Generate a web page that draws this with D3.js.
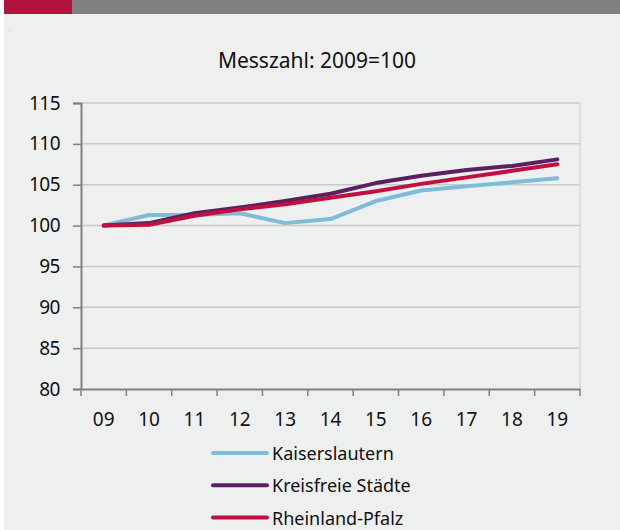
<!DOCTYPE html>
<html>
<head>
<meta charset="utf-8">
<script src="https://cdn.jsdelivr.net/npm/d3@7"></script>
<style>
  body { margin: 0; background: #fff; }
  svg { display: block; font-family: "Noto Sans", "Open Sans", sans-serif; }
</style>
</head>
<body>
<svg id="chart"></svg>
<script>
const WIDTH = 620;
const HEIGHT = 530;

// Data
const years = ["09", "10", "11", "12", "13", "14", "15", "16", "17", "18", "19"];
const kaiserslautern = [100, 101.3, 101.3, 101.5, 100.3, 100.8, 103.0, 104.3, 104.8, 105.3, 105.8];
const kreisfreieStaedte = [100, 100.3, 101.5, 102.2, 103.0, 103.9, 105.2, 106.1, 106.8, 107.3, 108.1];
const rheinlandPfalz = [100, 100.1, 101.2, 102.0, 102.6, 103.4, 104.2, 105.1, 105.9, 106.7, 107.5];
const yTicks = [80, 85, 90, 95, 100, 105, 110, 115];
const seriesNames = ["Kaiserslautern", "Kreisfreie Städte", "Rheinland-Pfalz"];
const seriesColors = ["#7fbcd9", "#5c1f5f", "#c0103f"];

const series = [
  { name: seriesNames[0], values: kaiserslautern, color: seriesColors[0] },
  { name: seriesNames[1], values: kreisfreieStaedte, color: seriesColors[1] },
  { name: seriesNames[2], values: rheinlandPfalz, color: seriesColors[2] }
];

const svg = d3.select("#chart").attr("width", WIDTH).attr("height", HEIGHT);

// background + header bar
svg.append("rect").attr("x", 4).attr("y", 0).attr("width", WIDTH - 4).attr("height", HEIGHT).attr("fill", "#eef0ef");
svg.append("rect").attr("x", 4).attr("y", 0).attr("width", 68).attr("height", 14).attr("fill", "#b5133f");
svg.append("rect").attr("x", 72).attr("y", 0).attr("width", WIDTH - 72).attr("height", 14).attr("fill", "#808080");
svg.append("circle").attr("cx", 9).attr("cy", 30).attr("r", 0.6).attr("fill", "#bbb");

// title
svg.append("text")
  .attr("x", 317).attr("y", 68)
  .attr("text-anchor", "middle")
  .attr("font-size", 21)
  .attr("fill", "#111")
  .text("Messzahl: 2009=100");

const plotLeft = 81, plotRight = 580, plotTop = 103, plotBottom = 389;

const x = d3.scaleBand().domain(years).range([plotLeft, plotRight]);
const y = d3.scaleLinear().domain([80, 115]).range([plotBottom, plotTop]);

// grid
const grid = svg.append("g");
grid.selectAll("line")
  .data(yTicks.slice(1))
  .enter()
  .append("line")
  .attr("x1", plotLeft).attr("x2", plotRight)
  .attr("y1", d => y(d)).attr("y2", d => y(d))
  .attr("stroke", "#c8c9c9")
  .attr("stroke-width", 1.5);
grid.append("line")
  .attr("x1", plotRight).attr("x2", plotRight)
  .attr("y1", plotTop).attr("y2", plotBottom)
  .attr("stroke", "#d6d7d7")
  .attr("stroke-width", 1.5);

// y axis
const yAxis = svg.append("g")
  .attr("transform", `translate(${plotLeft},0)`)
  .call(d3.axisLeft(y).tickValues(yTicks).tickSize(8).tickPadding(13));
yAxis.select(".domain").attr("stroke", "#808080").attr("stroke-width", 2);
yAxis.selectAll(".tick line").attr("stroke", "#808080").attr("stroke-width", 1.5);
yAxis.selectAll(".tick text").attr("font-size", 19).attr("fill", "#111")
  .attr("font-family", "Noto Sans, sans-serif").attr("letter-spacing", -0.5);

// x axis: ticks at band edges
const xAxis = svg.append("g")
  .attr("transform", `translate(0,${plotBottom})`)
  .call(d3.axisBottom(x).tickSize(0).tickPadding(24));
xAxis.select(".domain").attr("stroke", "#808080").attr("stroke-width", 2);
xAxis.selectAll(".tick text").attr("font-size", 19).attr("fill", "#111").attr("font-family", "Noto Sans, sans-serif");
const edges = years.map(d => x(d)).concat([plotRight]);
xAxis.selectAll("line.edge")
  .data(edges)
  .enter()
  .append("line")
  .attr("class", "edge")
  .attr("x1", d => d).attr("x2", d => d)
  .attr("y1", 0).attr("y2", 7)
  .attr("stroke", "#808080")
  .attr("stroke-width", 1.5);

// lines
const line = d3.line()
  .x((v, i) => x(years[i]) + x.bandwidth() / 2)
  .y(v => y(v));

svg.append("g").selectAll("path")
  .data(series)
  .enter()
  .append("path")
  .attr("d", d => line(d.values))
  .attr("fill", "none")
  .attr("stroke", d => d.color)
  .attr("stroke-width", 4)
  .attr("stroke-linejoin", "round")
  .attr("stroke-linecap", "round");

// legend
const legend = svg.append("g").selectAll("g")
  .data(series)
  .enter()
  .append("g")
  .attr("transform", (d, i) => `translate(213,${453 + i * 32.3})`);
legend.append("line")
  .attr("x1", 0).attr("x2", 54)
  .attr("stroke", d => d.color)
  .attr("stroke-width", 4)
  .attr("stroke-linecap", "round");
legend.append("text")
  .attr("x", 59).attr("y", 7)
  .attr("font-size", 18)
  .attr("fill", "#111")
  .text(d => d.name);
</script>
</body>
</html>
